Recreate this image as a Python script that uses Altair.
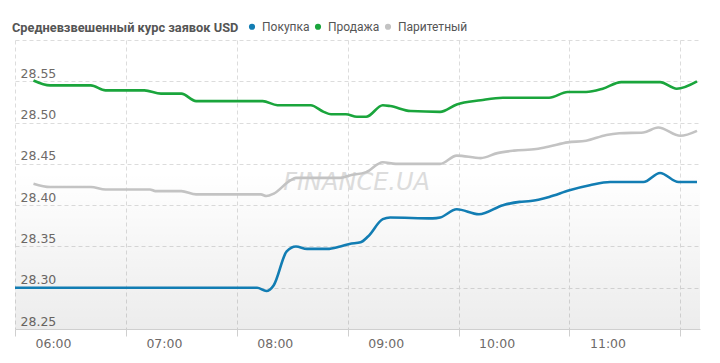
import altair as alt
import pandas as pd

# --- data ---
series_names = ["Покупка", "Продажа", "Паритетный"]
series_colors = ["#127db3", "#1aa53c", "#c3c3c3"]

buy_times = ["06:00", "08:11", "08:16", "08:20", "08:27", "08:32", "08:38", "08:49", "08:56",
             "09:01", "09:07", "09:11", "09:19", "09:23", "09:46", "09:50", "09:59", "10:11",
             "10:24", "10:33", "10:39", "10:49", "11:00", "11:11", "11:22", "11:40", "11:49",
             "11:59", "12:09"]
buy_values = [28.300, 28.300, 28.296, 28.303, 28.344, 28.350, 28.347, 28.347, 28.350,
              28.353, 28.355, 28.362, 28.383, 28.385, 28.384, 28.385, 28.395, 28.389,
              28.400, 28.404, 28.405, 28.410, 28.418, 28.424, 28.428, 28.428, 28.439,
              28.428, 28.428]

sell_times = ["06:10", "06:19", "06:41", "06:49", "07:10", "07:19", "07:30", "07:38", "08:14",
              "08:22", "08:40", "08:47", "08:51", "08:59", "09:05", "09:10", "09:19", "09:23",
              "09:34", "09:50", "09:59", "10:12", "10:24", "10:49", "10:59", "11:09", "11:18",
              "11:28", "11:49", "11:58", "12:09"]
sell_values = [28.551, 28.545, 28.545, 28.539, 28.539, 28.535, 28.535, 28.526, 28.526,
               28.521, 28.521, 28.513, 28.510, 28.510, 28.507, 28.507, 28.521, 28.520,
               28.514, 28.513, 28.522, 28.527, 28.530, 28.530, 28.537, 28.537, 28.541,
               28.549, 28.549, 28.541, 28.550]

par_times = ["06:10", "06:19", "06:41", "06:49", "07:13", "07:16", "07:30", "07:38", "08:13",
             "08:16", "08:20", "08:29", "08:32", "08:56", "09:01", "09:10", "09:19", "09:26",
             "09:50", "09:59", "10:12", "10:21", "10:30", "10:42", "10:49", "10:59", "11:09",
             "11:20", "11:27", "11:40", "11:48", "12:00", "12:09"]
par_values = [28.426, 28.422, 28.422, 28.419, 28.419, 28.417, 28.417, 28.413, 28.413,
              28.411, 28.414, 28.430, 28.433, 28.433, 28.436, 28.440, 28.452, 28.450,
              28.450, 28.460, 28.457, 28.463, 28.466, 28.468, 28.471, 28.476, 28.478,
              28.485, 28.487, 28.488, 28.494, 28.484, 28.490]

x_ticks = [6, 7, 8, 9, 10, 11, 12]
y_ticks = [28.25, 28.30, 28.35, 28.40, 28.45, 28.50, 28.55, 28.60]

TITLE_FONT = "Roboto"
LEGEND_FONT = "Roboto"


def to_hours(t):
    h, m = t.split(":")
    return int(h) + int(m) / 60.0


rows = []
for name, times, vals in zip(series_names, [buy_times, sell_times, par_times],
                             [buy_values, sell_values, par_values]):
    for t, v in zip(times, vals):
        rows.append({"series": name, "h": to_hours(t), "v": v})
df = pd.DataFrame(rows)

x_scale = alt.Scale(domain=[6, 12.177], nice=False, zero=False)
y_scale = alt.Scale(domain=[28.25, 28.60], nice=False, zero=False)

x_axis = alt.Axis(values=x_ticks, grid=True, gridDash=[4, 3], gridColor="#dcdcdc",
                  domain=True, domainColor="#cfcfcf", ticks=True, tickSize=7, tickColor="#cfcfcf",
                  labelExpr="datum.value >= 12 ? '' : (datum.value < 10 ? '0' : '') + datum.value + ':00'",
                  labelAlign="left", labelOffset=20, labelBaseline="top", labelPadding=1,
                  labelFont="DejaVu Sans", labelFontSize=12.5, labelColor="#6e6a68",
                  title=None, labelFlush=False, labelOverlap=False)
y_axis = alt.Axis(values=y_ticks, grid=True, gridDash=[4, 3], gridColor="#dcdcdc",
                  domain=False, ticks=False, tickSize=0,
                  labelExpr="datum.value >= 28.6 ? '' : format(datum.value, '.2f')",
                  labelAlign="left", labelPadding=-5, labelOffset=-4,
                  labelBaseline="alphabetic", labelFont="DejaVu Sans", labelFontSize=12.5,
                  labelColor="#6e6a68", title=None, labelFlush=False, labelOverlap=False)

bg = alt.Chart(pd.DataFrame({"a": [0]})).mark_rect(
    color=alt.Gradient(gradient="linear", x1=0, y1=0, x2=0, y2=1,
                       stops=[alt.GradientStop(color="rgba(0,0,0,0)", offset=0),
                              alt.GradientStop(color="rgba(0,0,0,0.075)", offset=1)])
).encode(
    x=alt.value(0), x2=alt.value(685),
    y=alt.datum(28.44, scale=y_scale, axis=y_axis), y2=alt.datum(28.25)
)

watermark = alt.Chart(pd.DataFrame({"a": [0]})).mark_text(
    text="FINANCE.UA", font="DejaVu Sans", fontSize=24, fontStyle="italic",
    color="#dcdcdc", align="center", baseline="middle"
).encode(x=alt.datum(9.08, scale=x_scale), y=alt.datum(28.427, scale=y_scale))

lines = alt.Chart(df).mark_line(strokeWidth=2.6, interpolate="monotone").encode(
    x=alt.X("h:Q", scale=x_scale, axis=x_axis),
    y=alt.Y("v:Q", scale=y_scale, axis=y_axis),
    color=alt.Color("series:N",
                    scale=alt.Scale(domain=series_names, range=series_colors),
                    legend=alt.Legend(orient="none", legendX=231, legendY=-19.5,
                                      direction="horizontal", title=None,
                                      symbolType="circle", symbolSize=10,
                                      symbolStrokeWidth=3, labelFont=LEGEND_FONT,
                                      labelFontSize=12, labelColor="#555555",
                                      labelOffset=4, columnPadding=0, padding=0,
                                      labelLimit=200)),
    detail="series:N",
)

chart = alt.layer(bg, watermark, lines).properties(
    width=685, height=289,
    padding={"left": 7, "top": 32, "right": 10, "bottom": 24},
    autosize=alt.AutoSizeParams(type="none"),
    title=alt.Title("Средневзвешенный курс заявок USD", anchor="start", frame="group",
                    font=TITLE_FONT, fontSize=12.8, fontWeight="bold", color="#555555",
                    dx=-3, dy=34, offset=14, baseline="middle"),
).configure_view(stroke=None)

chart.save("out.html", embed_options={"renderer": "svg", "actions": False})
